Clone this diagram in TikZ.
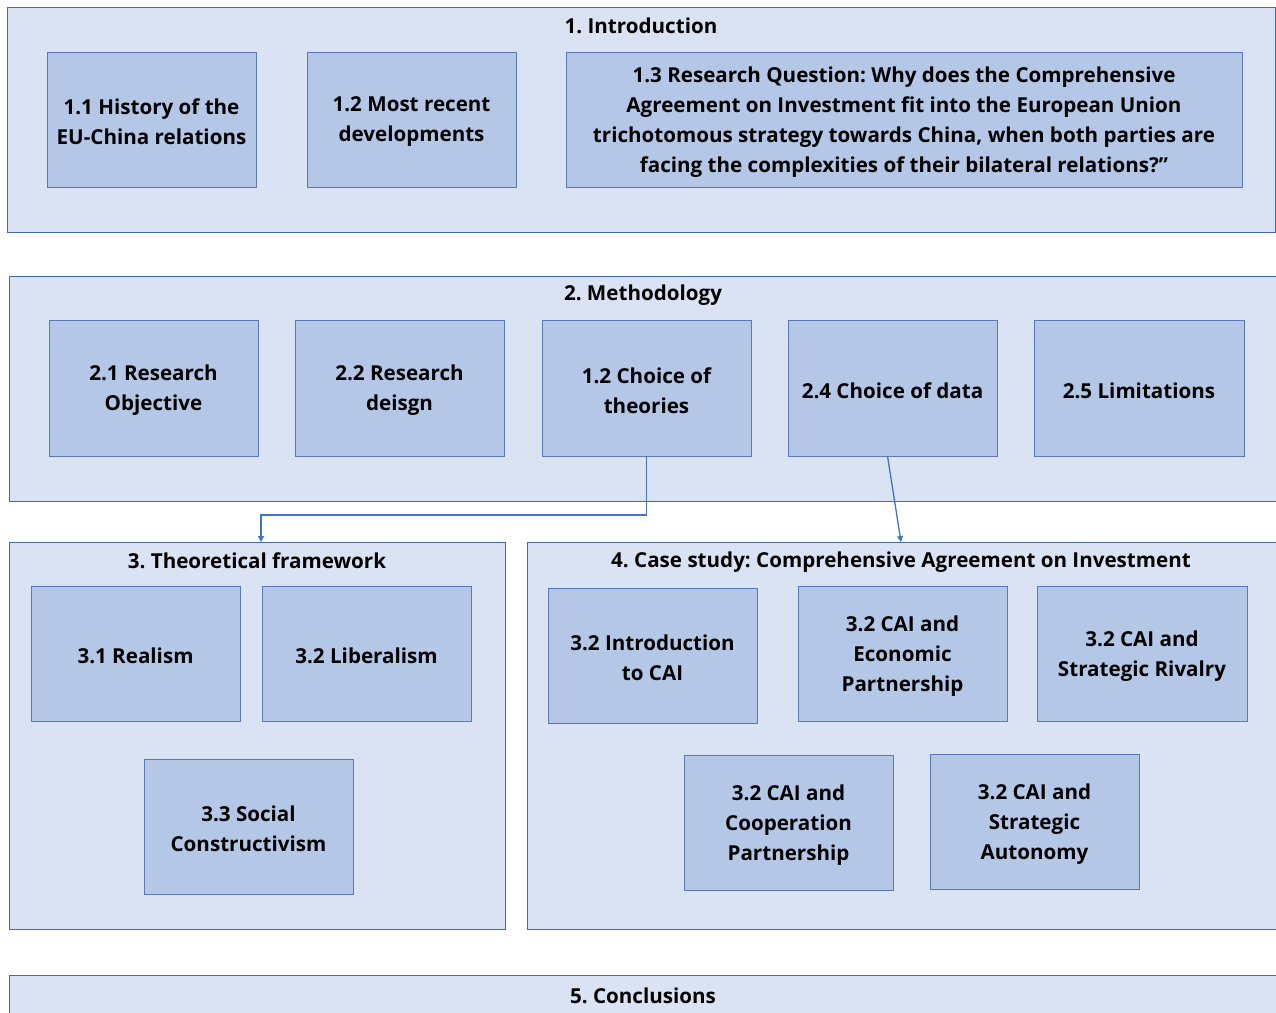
\documentclass[tikz,border=0pt]{standalone}
\usepackage{fontspec}
\setmainfont{Open Sans}
\usetikzlibrary{arrows.meta,calc}
\definecolor{outerfill}{HTML}{DAE3F3}
\definecolor{innerfill}{HTML}{B4C7E7}
\definecolor{outerline}{HTML}{4568AA}
\definecolor{innerline}{HTML}{5B7AB5}
\definecolor{arrowc}{HTML}{4472C4}
\tikzset{
  section/.style={draw=outerline, fill=outerfill, line width=0.9pt},
  sub/.style={draw=innerline, fill=innerfill, line width=0.9pt},
  lbl/.style={font=\fontsize{20.6}{30}\selectfont\bfseries, align=center, text=black, inner sep=0pt},
  boxlbl/.style={lbl, yshift=-2.5pt},
  conn/.style={draw=arrowc, line width=1.3pt, -{Triangle[length=6pt,width=6pt]}}
}
\newcommand{\boxat}[6]{% name, x1,y1,x2,y2, text
  \draw[sub] (#2,#3) rectangle (#4,#5);
  \node[boxlbl] (#1) at ({(#2+#4)/2},{(#3+#5)/2}) {#6};
  \coordinate (#1-s) at ({(#2+#4)/2},#5);
}
\frenchspacing
\begin{document}
\frenchspacing
\begin{tikzpicture}[x=1pt,y=-1pt]
\useasboundingbox (0,0) rectangle (1276,1012);
\fill[white] (0,0) rectangle (1276,1012);
% Section 1
\draw[section] (7,7) rectangle (1275,232);
\node[lbl] (t1) at (641,26) {1. Introduction};
\boxat{b11}{47}{52}{256}{187}{1.1 History of the\\EU-China relations}
\boxat{b12}{307}{52}{516}{187}{1.2 Most recent\\developments}
\boxat{b13}{566}{52}{1242}{187}{1.3 Research Question: Why does the Comprehensive\\Agreement on Investment fit into the European Union\\trichotomous strategy towards China, when both parties are\\facing the complexities of their bilateral relations?”}
% Section 2
\draw[section] (9,276) rectangle (1277,501);
\node[lbl] (t2) at (643,295) {2. Methodology};
\boxat{b21}{49}{320}{258}{456}{2.1 Research\\Objective}
\boxat{b22}{295}{320}{504}{456}{2.2 Research\\deisgn}
\boxat{b23}{542}{320}{751}{456}{1.2 Choice of\\theories}
\boxat{b24}{788}{320}{997}{456}{2.4 Choice of data}
\boxat{b25}{1034}{320}{1244}{456}{2.5 Limitations}
% Section 3
\draw[section] (9,542) rectangle (505,929);
\node[lbl] (t3) at (257,561) {3. Theoretical framework};
\coordinate (s3top) at (261,542);
\boxat{b31}{31}{586}{240}{721}{3.1 Realism}
\boxat{b32}{262}{586}{471}{721}{3.2 Liberalism}
\boxat{b33}{144}{759}{353}{894}{3.3 Social\\Constructivism}
% Section 4
\draw[section] (527,542) rectangle (1277,929);
\node[lbl] (t4) at (901,562) {4. Case study: Comprehensive Agreement on Investment};
\coordinate (s4top) at (901,542);
\boxat{b41}{548}{588}{757}{723}{3.2 Introduction\\to CAI}
\boxat{b42}{798}{586}{1007}{721}{3.2 CAI and\\Economic\\Partnership}
\boxat{b43}{1037}{586}{1247}{721}{3.2 CAI and\\Strategic Rivalry}
\boxat{b44}{684}{755}{893}{890}{3.2 CAI and\\Cooperation\\Partnership}
\boxat{b45}{930}{754}{1139}{889}{3.2 CAI and\\Strategic\\Autonomy}
% Section 5
\draw[section] (9,975) rectangle (1277,1030);
\node[lbl] (t5) at (643,996) {5. Conclusions};
% Connectors
\draw[conn] (b23-s) -- (b23-s |- 0,515) -| (s3top);
\draw[conn] ($(b24-s)+(-5,0)$) -- (s4top);
\end{tikzpicture}
\end{document}
